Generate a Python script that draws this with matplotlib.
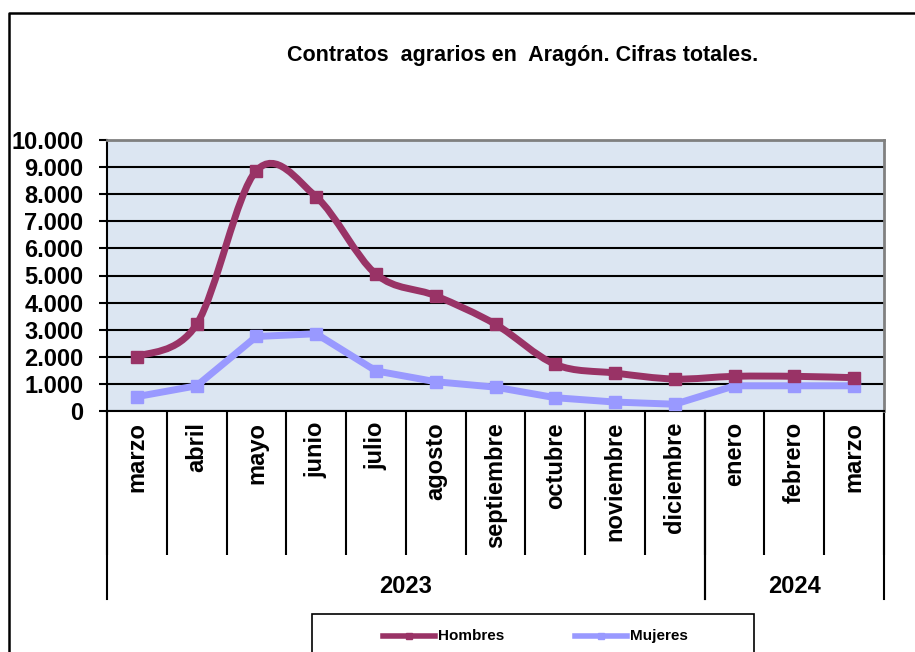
"""Contratos agrarios en Aragón: hombres y mujeres, marzo 2023 - marzo 2024."""

import matplotlib

matplotlib.use("Agg")
import matplotlib.pyplot as plt
from matplotlib.lines import Line2D
from matplotlib.patches import PathPatch, Rectangle
from matplotlib.path import Path
from matplotlib.ticker import FuncFormatter

MESES = ["marzo", "abril", "mayo", "junio", "julio", "agosto", "septiembre",
         "octubre", "noviembre", "diciembre", "enero", "febrero", "marzo"]
ANIOS = ["2023", "2024"]
MESES_POR_ANIO = [10, 3]
HOMBRES = [2000, 3200, 8870, 7900, 5050, 4250, 3200, 1720, 1400, 1180, 1280, 1280, 1230]
MUJERES = [530, 930, 2750, 2850, 1480, 1080, 880, 490, 330, 250, 930, 930, 930]

COR_HOMBRES = "#993366"
COR_MUJERES = "#9999FF"
FONTE = "Liberation Sans"

plt.rcParams["font.family"] = FONTE
plt.rcParams["font.weight"] = "bold"

W, H = 915, 652


def curva_suave(xs, ys):
    """Caminho Bezier tipo Catmull-Rom (linha suavizada do Excel)."""
    pts = list(zip(xs, ys))
    verts = [pts[0]]
    codes = [Path.MOVETO]
    n = len(pts)
    for i in range(n - 1):
        p0 = pts[max(i - 1, 0)]
        p1 = pts[i]
        p2 = pts[i + 1]
        p3 = pts[min(i + 2, n - 1)]
        c1 = (p1[0] + (p2[0] - p0[0]) / 6, p1[1] + (p2[1] - p0[1]) / 6)
        c2 = (p2[0] - (p3[0] - p1[0]) / 6, p2[1] - (p3[1] - p1[1]) / 6)
        verts += [c1, c2, p2]
        codes += [Path.CURVE4] * 3
    return Path(verts, codes)


fig = plt.figure(figsize=(W / 100, H / 100), dpi=100)
ax = fig.add_axes([107 / W, 1 - 411 / H, (884 - 107) / W, (411 - 140) / H])
ax.set_facecolor("#DCE6F2")

x = list(range(len(MESES)))

# Hombres: linha suavizada + marcadores
ax.add_patch(PathPatch(curva_suave(x, HOMBRES), facecolor="none",
                       edgecolor=COR_HOMBRES, lw=5, zorder=3, capstyle="round"))
ax.plot(x, HOMBRES, ls="none", marker="s", ms=8, color=COR_HOMBRES, zorder=4)

# Mujeres: linha reta
ax.plot(x, MUJERES, marker="s", ms=8, lw=5, color=COR_MUJERES, zorder=3,
        solid_joinstyle="round")

ax.set_xlim(-0.5, len(MESES) - 0.5)
ax.set_ylim(0, 10000)
ax.set_yticks(range(0, 10001, 1000))
ax.yaxis.set_major_formatter(FuncFormatter(lambda v, p: f"{v:,.0f}".replace(",", ".")))
ax.grid(axis="y", color="black", lw=1.5)
ax.set_axisbelow(True)
ax.tick_params(axis="y", direction="out", length=6, width=1.5, pad=11, labelsize=17)

# nomes dos meses como rótulos; separadores como ticks menores longos
ax.set_xticks(x)
ax.set_xticklabels(MESES, rotation=90, fontsize=17)
ax.tick_params(axis="x", which="major", length=0, pad=8)
ax.set_xticks([i - 0.5 for i in range(len(MESES) + 1)], minor=True)
ax.tick_params(axis="x", which="minor", direction="out", length=104, width=1.5)

for lado in ["top", "right"]:
    ax.spines[lado].set_color("#808080")
    ax.spines[lado].set_linewidth(2)
for lado in ["left", "bottom"]:
    ax.spines[lado].set_linewidth(1.5)

# grupos de anos
inicio = -0.5
for anio, n in zip(ANIOS, MESES_POR_ANIO):
    fim = inicio + n
    ax.text((inicio + fim) / 2, -0.649, anio, transform=ax.get_xaxis_transform(),
            ha="center", va="center", fontsize=17, fontweight="bold")
    for borda in (inicio, fim):
        ax.axvline(borda, ymin=-0.694, ymax=0, color="black", lw=1.5, clip_on=False)
    inicio = fim

fig.text(523 / W, 1 - 55 / H, "Contratos  agrarios en  Aragón. Cifras totales.",
         ha="center", va="center", fontsize=15.5, fontweight="bold")

# moldura externa do gráfico
fig.add_artist(Line2D([9 / W, 9 / W, 1], [0, 1 - 13 / H, 1 - 13 / H],
                      color="black", lw=1.8, transform=fig.transFigure))

# legenda desenhada à mão (a caixa é cortada pela borda inferior)
fig.add_artist(Rectangle((312 / W, -0.02), (754 - 312) / W, (1 - 614 / H) + 0.02,
                         facecolor="white", edgecolor="black", lw=1.2,
                         transform=fig.transFigure))
y_leg = 1 - 636 / H
for cor, nome, x0 in [(COR_HOMBRES, "Hombres", 383), (COR_MUJERES, "Mujeres", 575)]:
    fig.add_artist(Line2D([x0 / W, (x0 + 52) / W], [y_leg, y_leg], color=cor, lw=4,
                          transform=fig.transFigure))
    fig.add_artist(Line2D([(x0 + 26) / W], [y_leg], marker="s", ms=4, color=cor,
                          transform=fig.transFigure))
    fig.text((x0 + 55) / W, y_leg, nome, ha="left", va="center", fontsize=11,
             fontweight="bold")

fig.savefig("out.png", dpi=100)
